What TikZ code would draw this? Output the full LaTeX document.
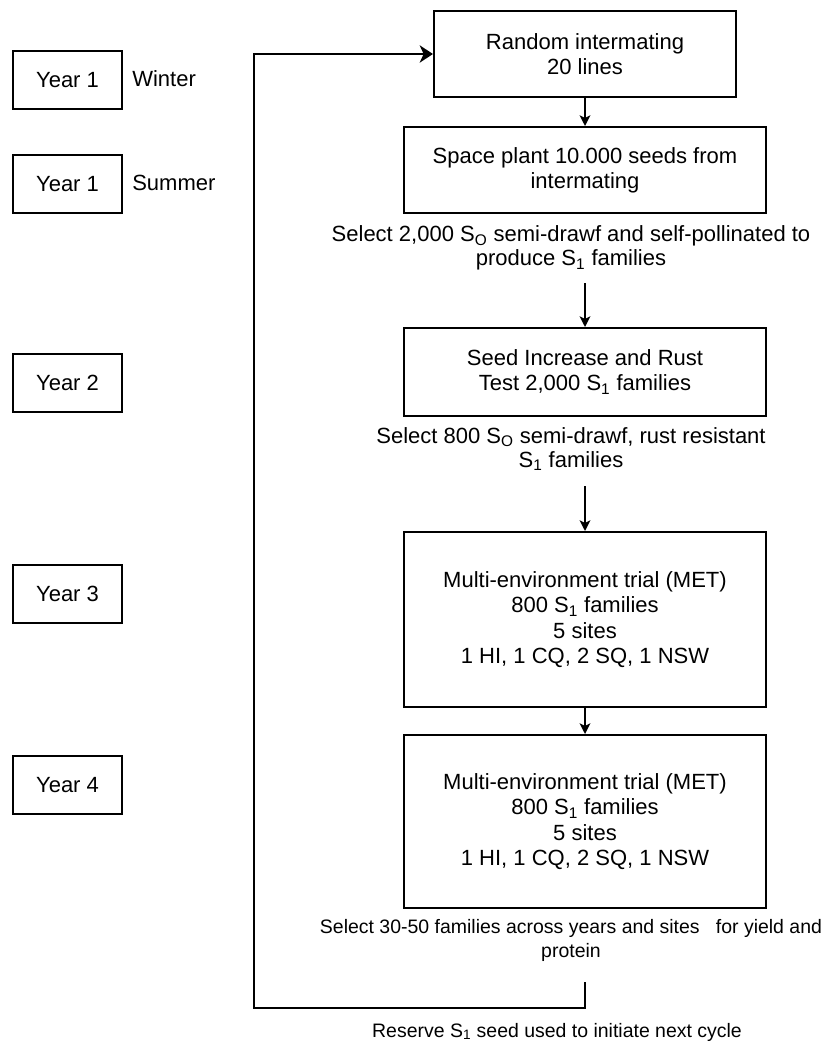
\documentclass[tikz,border=0pt]{standalone}
\usepackage{fontspec}
\setmainfont{Liberation Sans}
\usetikzlibrary{arrows.meta}
\begin{document}
\begin{tikzpicture}[x=0.75pt,y=-0.75pt,
  box/.style={draw, line width=1.5pt, align=center, inner sep=0pt, font=\fontsize{16.5}{19}\selectfont},
  yearbox/.style={box, minimum width=81.75pt, minimum height=43.5pt},
  lbl/.style={align=center, inner sep=0pt, font=\fontsize{16.5}{18}\selectfont},
  small/.style={align=center, inner sep=0pt, font=\fontsize{14.6}{18}\selectfont},
  arr/.style={line width=1.5pt, -{Stealth[length=8pt,width=8pt,inset=2pt]}},
  looparr/.style={line width=1.5pt, line join=miter, -{Stealth[length=10pt,width=13pt,inset=3pt]}}]
\useasboundingbox (0,0) rectangle (830,1042);
% year boxes
\node[yearbox] (y1w) at (67.5,80) {Year 1};
\node[lbl, anchor=west] (win) at (132,79) {Winter};
\node[yearbox] (y1s) at (67.5,184) {Year 1};
\node[lbl, anchor=west] (sum) at (132,183) {Summer};
\node[yearbox] (y2) at (67.5,383) {Year 2};
\node[yearbox] (y3) at (67.5,594) {Year 3};
\node[yearbox] (y4) at (67.5,785) {Year 4};
% flow
\node[box, minimum width=226.5pt, minimum height=64.5pt] (rand) at (585,54) {Random intermating\\20 lines};
\node[box, minimum width=271.5pt, minimum height=64.5pt] (space) at (585,170) {Space plant 10.000 seeds from\\intermating};
\node[lbl] (sel1) at (571,248) {Select 2,000 S\textsubscript{O} semi-drawf and self-pollinated to\\produce S\textsubscript{1} families};
\node[box, minimum width=271.5pt, minimum height=66pt] (seed) at (585,372) {Seed Increase and Rust\\Test 2,000 S\textsubscript{1} families};
\node[lbl] (sel2) at (571,449) {Select 800 S\textsubscript{O} semi-drawf, rust resistant\\S\textsubscript{1} families};
\node[box, minimum width=271.5pt, minimum height=131.25pt] (met1) at (585,619.5) {Multi-environment trial (MET)\\800 S\textsubscript{1} families\\5 sites\\1 HI, 1 CQ, 2 SQ, 1 NSW};
\node[box, minimum width=271.5pt, minimum height=129.75pt] (met2) at (585,821.5) {Multi-environment trial (MET)\\800 S\textsubscript{1} families\\5 sites\\1 HI, 1 CQ, 2 SQ, 1 NSW};
\node[small] (sel3) at (571,940) {Select 30-50 families across years and sites \ \ for yield and\\protein};
\node[small] (res) at (557,1032) {Reserve S\textsubscript{1} seed used to initiate next cycle};
% connectors
\coordinate (a1) at (585,283);
\coordinate (a2) at (585,486);
\coordinate (st) at (585,982);
\draw[arr] (rand) -- (space);
\draw[arr] (a1) -- (seed.north);
\draw[arr] (a2) -- (met1.north);
\draw[arr] (met1) -- (met2);
\draw[looparr] (st) -- ++(0,26) -| (254,54) -- (rand.west);
\end{tikzpicture}
\end{document}
